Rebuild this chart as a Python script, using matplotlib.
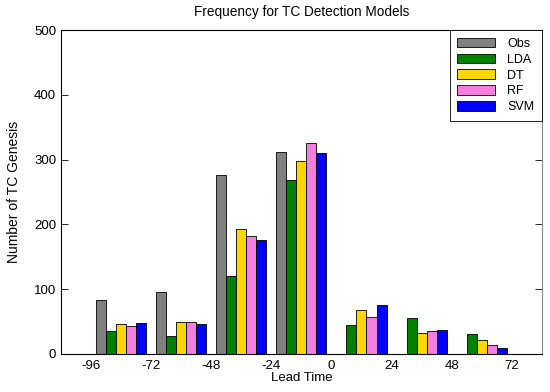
import numpy as np
import matplotlib
matplotlib.use('Agg')
import matplotlib.pyplot as plt

plt.rcParams['font.family'] = ['Liberation Sans', 'DejaVu Sans']
plt.rcParams['axes.unicode_minus'] = False

# dados
leadTimes = [-96, -72, -48, -24, 0, 24, 48]
modelos = ['Obs', 'LDA', 'DT', 'RF', 'SVM']
obs = [84, 96, 276, 312, 0, 0, 0]
lda = [36, 28, 120, 269, 44, 56, 31]
dt = [47, 49, 193, 298, 68, 32, 22]
rf = [43, 50, 182, 326, 57, 35, 14]
svm = [48, 47, 176, 311, 75, 37, 10]
cores = ['#808080', '#008000', '#FFD700', '#F47FE0', '#0000FF']

series = [obs, lda, dt, rf, svm]

fig = plt.figure(figsize=(5.5, 3.92), dpi=100)
ax = fig.add_axes([0.111, 0.097, 0.874, 0.826])

largura = 4
x = np.array(leadTimes)
for i in range(len(modelos)):
    ax.bar(x + 2 + largura * i, series[i], width=largura, align='edge',
           color=cores[i], edgecolor='black', linewidth=0.6, label=modelos[i])

ax.set_xlim(-108, 84)
ax.set_ylim(0, 500)
ax.set_xticks([-96, -72, -48, -24, 0, 24, 48, 72])
ax.set_yticks([0, 100, 200, 300, 400, 500])
ax.tick_params(axis='x', length=0, labelsize=9.5, pad=4)
ax.tick_params(axis='y', direction='in', length=5, labelsize=9.5, right=True, width=0.6)
for s in ax.spines.values():
    s.set_linewidth(0.8)
ax.spines['right'].set_color('#888888')

ax.set_xlabel('Lead Time', fontsize=9.5, labelpad=0)
ax.set_ylabel('Number of TC Genesis', fontsize=10, labelpad=9)
ax.set_title('Frequency for TC Detection Models', fontsize=9.8, pad=10)

leg = ax.legend(loc='upper right', fontsize=9, handlelength=3, handleheight=0.8,
                fancybox=False, edgecolor='black', framealpha=1, borderaxespad=0,
                labelspacing=0.3, handletextpad=1.0, borderpad=0.6)
leg.get_frame().set_linewidth(0.6)

fig.savefig('out.png', dpi=100)
